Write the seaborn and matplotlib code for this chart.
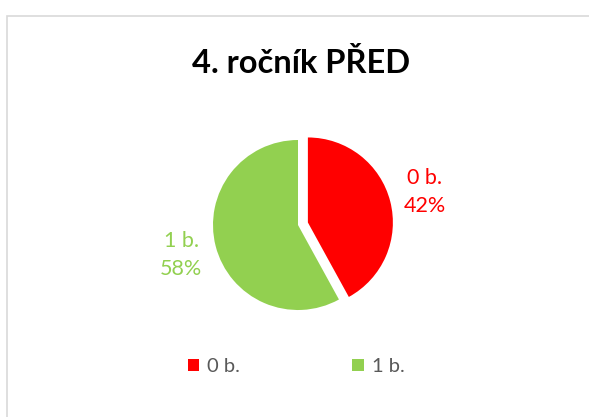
import matplotlib
matplotlib.use("Agg")
import matplotlib.pyplot as plt
from matplotlib.patches import Rectangle
import seaborn as sns

# data
categories = ["0 b.", "1 b."]
shares = [42, 58]
slice_colors = ["#FF0000", "#92D050"]
title = "4. ročník PŘED"

sns.set_theme(style="white")
plt.rcParams['font.family'] = ['Lato', 'DejaVu Sans']

W, H = 589, 417
fig = plt.figure(figsize=(W / 100, H / 100), dpi=100)
fig.patch.set_facecolor("white")

# pie area: center (298, 225) px from top, radius 85 px
r_px = 85
lim = 1.2
side = 2 * lim * r_px
cx, cy = 298, H - 225
ax = fig.add_axes([(cx - side / 2) / W, (cy - side / 2) / H, side / W, side / H])

labels = [f"{c}\n{v}%" for c, v in zip(categories, shares)]
wedges, texts = ax.pie(shares, colors=slice_colors, startangle=90, counterclock=False,
                       explode=[0.12, 0], labels=labels, labeldistance=1.42,
                       wedgeprops=dict(linewidth=0))
for t, col in zip(texts, slice_colors):
    t.set_ha("center")
    t.set_va("center")
    t.set_color(col)
    t.set_fontsize(15.5)
    t.set_linespacing(1.5)
ax.set_xlim(-lim, lim)
ax.set_ylim(-lim, lim)
ax.set_aspect("equal")
ax.axis("off")

fig.text(301 / W, (H - 73) / H, title, ha="center", va="baseline",
         fontsize=23.5, fontweight="bold", color="black")

leg = fig.legend(wedges, categories, loc="center", bbox_to_anchor=(296 / W, (H - 367) / H),
                 ncol=2, frameon=False, fontsize=14.5, handlelength=0.55, handleheight=0.55,
                 handletextpad=0.4, columnspacing=5.6)
for t in leg.get_texts():
    t.set_color("#595959")

fig.patches.append(Rectangle((7 / W, -0.1), 1.1, (H - 16) / H + 0.1, transform=fig.transFigure,
                             fill=False, edgecolor="#d9d9d9", linewidth=1.2))

fig.savefig("out.png", dpi=100)
